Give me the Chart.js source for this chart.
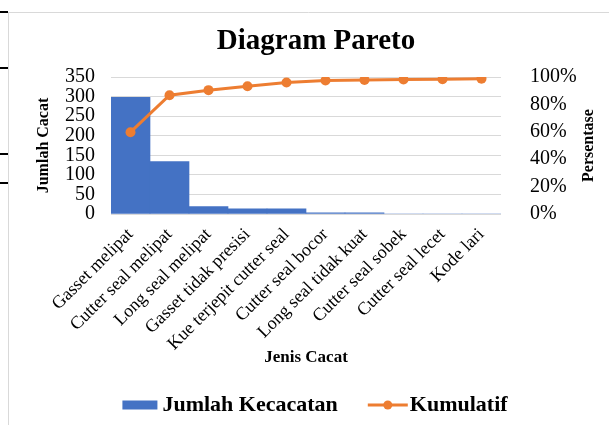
<!DOCTYPE html>
<html>
<head>
<meta charset="utf-8">
<title>Diagram Pareto</title>
<script src="https://cdn.jsdelivr.net/npm/chart.js@4.4.1/dist/chart.umd.min.js"></script>
<style>
  html, body { margin: 0; padding: 0; background: #fff; }
  #wrap { width: 609px; height: 425px; position: relative; }
</style>
</head>
<body>
<div id="wrap"><canvas id="paretoChart" width="609" height="425"></canvas></div>
<script>
// Data
const categories = [
    'Gasset melipat', 'Cutter seal melipat', 'Long seal melipat', 'Gasset tidak presisi',
    'Kue terjepit cutter seal', 'Cutter seal bocor', 'Long seal tidak kuat',
    'Cutter seal sobek', 'Cutter seal lecet', 'Kode lari'
];
const jumlahKecacatan = [298, 134, 19, 13, 13, 3, 3, 0, 0, 0];
const kumulatif = [59.7, 86.7, 90.4, 93.3, 96.0, 97.5, 97.9, 98.2, 98.4, 98.8];
const leftTicks = [0, 50, 100, 150, 200, 250, 300, 350];
const rightTicks = [0, 20, 40, 60, 80, 100];

const BLUE = '#4472C4';
const ORANGE = '#ED7D31';
const SERIF = '"Liberation Serif", "Times New Roman", serif';

// Frame lines, title, right axis title and legend drawn on the canvas
const decorPlugin = {
    id: 'decor',
    beforeDraw(chart) {
        const ctx = chart.ctx;
        ctx.save();
        ctx.fillStyle = '#fff';
        ctx.fillRect(0, 0, chart.width, chart.height);
        ctx.strokeStyle = '#d9d9d9';
        ctx.lineWidth = 1;
        ctx.beginPath();
        ctx.moveTo(8.5, 12);
        ctx.lineTo(8.5, chart.height);
        ctx.moveTo(8, 12.5);
        ctx.lineTo(chart.width, 12.5);
        ctx.stroke();
        ctx.strokeStyle = '#000';
        ctx.lineWidth = 2;
        ctx.beginPath();
        [12, 68, 154, 183].forEach(y => {
            ctx.moveTo(0, y);
            ctx.lineTo(8, y);
        });
        ctx.stroke();
        ctx.restore();
    },
    afterDraw(chart) {
        const ctx = chart.ctx;
        ctx.save();
        ctx.fillStyle = '#000';

        // Title
        ctx.font = 'bold 29px ' + SERIF;
        ctx.textAlign = 'center';
        ctx.textBaseline = 'middle';
        ctx.fillText('Diagram Pareto', 316, 42);

        // Right axis title, reading bottom to top
        ctx.font = 'bold 16px ' + SERIF;
        ctx.translate(589, (chart.chartArea.top + chart.chartArea.bottom) / 2);
        ctx.rotate(-Math.PI / 2);
        ctx.fillText('Persentase', 0, 0);
        ctx.setTransform(1, 0, 0, 1, 0, 0);

        // Legend
        ctx.font = 'bold 22px ' + SERIF;
        ctx.textAlign = 'left';
        const y = 405;
        const t1 = 'Jumlah Kecacatan', t2 = 'Kumulatif';
        const w1 = ctx.measureText(t1).width, w2 = ctx.measureText(t2).width;
        const total = 35 + 5 + w1 + 30 + 40 + 2 + w2;
        let x = 315 - total / 2;
        ctx.fillStyle = BLUE;
        ctx.fillRect(x, y - 4.5, 35, 9);
        x += 40;
        ctx.fillStyle = '#000';
        ctx.fillText(t1, x, y);
        x += w1 + 30;
        ctx.strokeStyle = ORANGE;
        ctx.lineWidth = 3;
        ctx.beginPath();
        ctx.moveTo(x, y);
        ctx.lineTo(x + 40, y);
        ctx.stroke();
        ctx.fillStyle = ORANGE;
        ctx.beginPath();
        ctx.arc(x + 20, y, 4.5, 0, Math.PI * 2);
        ctx.fill();
        x += 42;
        ctx.fillStyle = '#000';
        ctx.fillText(t2, x, y);
        ctx.restore();
    }
};

const ctx = document.getElementById('paretoChart').getContext('2d');
new Chart(ctx, {
    data: {
        labels: categories,
        datasets: [{
            type: 'line',
            label: 'Kumulatif',
            data: kumulatif,
            yAxisID: 'y1',
            borderColor: ORANGE,
            backgroundColor: ORANGE,
            borderWidth: 3,
            pointRadius: 5,
            pointBorderWidth: 0,
            pointBackgroundColor: ORANGE,
            tension: 0,
            order: 0
        }, {
            type: 'bar',
            label: 'Jumlah Kecacatan',
            data: jumlahKecacatan,
            yAxisID: 'y',
            backgroundColor: BLUE,
            barPercentage: 1,
            categoryPercentage: 1,
            order: 1
        }]
    },
    options: {
        responsive: false,
        animation: false,
        layout: { padding: { top: 77, bottom: 50, left: 0, right: 0 } },
        plugins: {
            legend: { display: false },
            title: { display: false },
            tooltip: { enabled: false }
        },
        scales: {
            x: {
                grid: { display: false },
                border: { display: false },
                ticks: {
                    color: '#000',
                    font: { family: SERIF, size: 18 },
                    minRotation: 45,
                    maxRotation: 45,
                    autoSkip: false,
                    padding: 2
                },
                title: {
                    display: true,
                    text: 'Jenis Cacat',
                    color: '#000',
                    font: { family: SERIF, size: 17, weight: 'bold' },
                    padding: { top: 0, bottom: 7 }
                },
                afterFit(scale) { scale.height = 161; }
            },
            y: {
                position: 'left',
                min: leftTicks[0],
                max: leftTicks[leftTicks.length - 1],
                afterBuildTicks(scale) { scale.ticks = leftTicks.map(v => ({ value: v })); },
                grid: { color: '#d9d9d9', drawTicks: false },
                border: { display: false },
                ticks: {
                    color: '#000',
                    font: { family: SERIF, size: 20 },
                    autoSkip: false,
                    padding: 16
                },
                title: {
                    display: true,
                    text: 'Jumlah Cacat',
                    color: '#000',
                    font: { family: SERIF, size: 16, weight: 'bold' },
                    padding: { top: 34, bottom: 0 }
                },
                afterFit(scale) { scale.width = 111; }
            },
            y1: {
                position: 'right',
                min: rightTicks[0],
                max: rightTicks[rightTicks.length - 1],
                afterBuildTicks(scale) { scale.ticks = rightTicks.map(v => ({ value: v })); },
                grid: { display: false },
                border: { display: false },
                ticks: {
                    color: '#000',
                    font: { family: SERIF, size: 20 },
                    autoSkip: false,
                    padding: 21,
                    callback: v => v + '%'
                },
                afterFit(scale) { scale.width = 108; }
            }
        }
    },
    plugins: [decorPlugin]
});
</script>
</body>
</html>
